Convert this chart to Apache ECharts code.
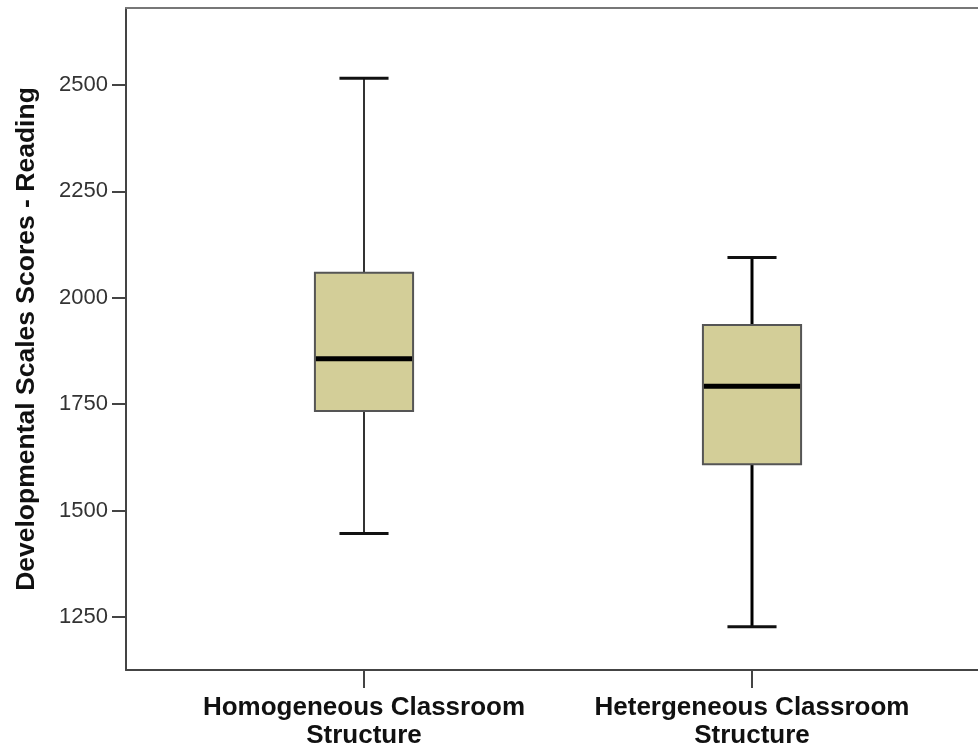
<!DOCTYPE html>
<html>
<head>
<meta charset="utf-8">
<script src="https://cdn.jsdelivr.net/npm/echarts@6/dist/echarts.min.js"></script>
<style>html,body{margin:0;padding:0;background:#fff;}#c{width:978px;height:745px;}</style>
</head>
<body>
<div id="c"></div>
<script>
// ---- data ----
var categories = ['Homogeneous Classroom\nStructure', 'Hetergeneous Classroom\nStructure'];
var mins    = [1446, 1227];
var q1s     = [1734, 1609];
var medians = [1857, 1792];
var q3s     = [2059, 1936];
var maxs    = [2516, 2095];
var yTicks  = [1250, 1500, 1750, 2000, 2250, 2500];
var yTitle  = 'Developmental Scales Scores - Reading';

// ---- style per box ----
var whiskerStyles = [
  {stem: 2, stemColor: '#333', cap: 3},
  {stem: 3, stemColor: '#000', cap: 3}
];

var yMin = 1125.5, yMax = 2681;

var seriesData = categories.map(function (c, i) {
  return [i, mins[i], q1s[i], medians[i], q3s[i], maxs[i]];
});

function renderItem(params, api) {
  var idx = api.value(0);
  var band = api.size([1, 0])[0];
  var bw = band * 0.253;
  var cw = bw * 0.5;
  var pMin = api.coord([idx, api.value(1)]);
  var pQ1 = api.coord([idx, api.value(2)]);
  var pMed = api.coord([idx, api.value(3)]);
  var pQ3 = api.coord([idx, api.value(4)]);
  var pMax = api.coord([idx, api.value(5)]);
  var x = pMed[0];
  var ws = whiskerStyles[params.dataIndex];
  return {
    type: 'group',
    children: [
      {type: 'line', shape: {x1: x, y1: pMax[1], x2: x, y2: pQ3[1]}, style: {stroke: ws.stemColor, lineWidth: ws.stem}},
      {type: 'line', shape: {x1: x, y1: pQ1[1], x2: x, y2: pMin[1]}, style: {stroke: ws.stemColor, lineWidth: ws.stem}},
      {type: 'line', shape: {x1: x - cw / 2, y1: pMax[1], x2: x + cw / 2, y2: pMax[1]}, style: {stroke: '#111', lineWidth: ws.cap}},
      {type: 'line', shape: {x1: x - cw / 2, y1: pMin[1], x2: x + cw / 2, y2: pMin[1]}, style: {stroke: '#111', lineWidth: ws.cap}},
      {type: 'rect', shape: {x: x - bw / 2, y: pQ3[1], width: bw, height: pQ1[1] - pQ3[1]}, style: {fill: '#D3CE98', stroke: '#555', lineWidth: 2}},
      {type: 'line', shape: {x1: x - bw / 2 + 1, y1: pMed[1], x2: x + bw / 2 - 1, y2: pMed[1]}, style: {stroke: '#000', lineWidth: 5}}
    ]
  };
}

var chart = echarts.init(document.getElementById('c'), null, {renderer: 'canvas'});
chart.setOption({
  animation: false,
  backgroundColor: '#fff',
  grid: [
    {left: 126, right: 0, top: 8, bottom: 75, containLabel: false, outerBoundsMode: 'none'},
    {left: 170, width: 776, top: 8, bottom: 75, containLabel: false, outerBoundsMode: 'none'}
  ],
  xAxis: [
    {gridIndex: 0, type: 'value', position: 'bottom', min: 0, max: 1,
     axisLine: {show: true, onZero: false, lineStyle: {color: '#444', width: 2}},
     axisTick: {show: false}, axisLabel: {show: false}, splitLine: {show: false}},
    {gridIndex: 0, type: 'value', position: 'top', min: 0, max: 1,
     axisLine: {show: true, onZero: false, lineStyle: {color: '#777', width: 2}},
     axisTick: {show: false}, axisLabel: {show: false}, splitLine: {show: false}},
    {gridIndex: 1, type: 'category', data: categories, position: 'bottom', boundaryGap: true,
     axisLine: {show: false},
     axisTick: {show: true, alignWithLabel: true, length: 18, lineStyle: {color: '#444', width: 2}},
     axisLabel: {show: true, margin: 24, fontFamily: 'Liberation Sans, Arial, sans-serif', fontWeight: 'bold',
                 fontSize: 26, lineHeight: 28, color: '#111', interval: 0},
     splitLine: {show: false}}
  ],
  yAxis: [
    {gridIndex: 0, type: 'value', min: yMin, max: yMax,
     name: yTitle, nameLocation: 'middle', nameGap: 86,
     nameTextStyle: {fontFamily: 'Liberation Sans, Arial, sans-serif', fontWeight: 'bold', fontSize: 26.5, color: '#111'},
     axisLine: {show: true, onZero: false, lineStyle: {color: '#444', width: 2}},
     axisTick: {show: true, length: 14, customValues: yTicks, lineStyle: {color: '#444', width: 2}},
     axisLabel: {show: true, customValues: yTicks, margin: 18, fontFamily: 'Liberation Sans, Arial, sans-serif',
                 fontSize: 22, color: '#333', formatter: function (v) { return String(v); }},
     splitLine: {show: false}},
    {gridIndex: 1, type: 'value', min: yMin, max: yMax, show: false, splitLine: {show: false}}
  ],
  series: [{
    type: 'custom',
    xAxisIndex: 2,
    yAxisIndex: 1,
    renderItem: renderItem,
    encode: {x: 0, y: [1, 2, 3, 4, 5]},
    data: seriesData,
    clip: false
  }]
});
</script>
</body>
</html>
